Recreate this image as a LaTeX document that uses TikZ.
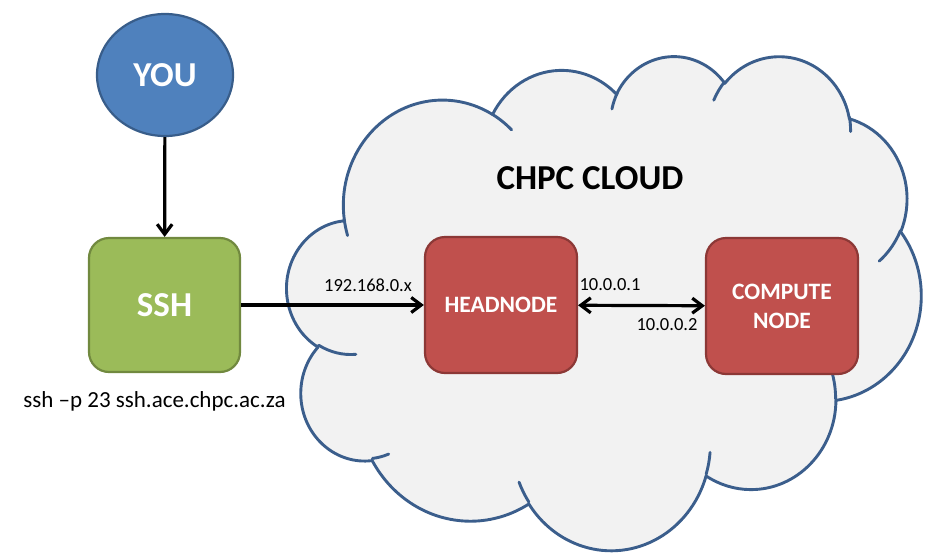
\documentclass[tikz,border=0pt]{standalone}
\usepackage{fontspec}
\setmainfont{Carlito}
\usetikzlibrary{arrows.meta,shapes.geometric}
\definecolor{youfill}{HTML}{4F81BD}
\definecolor{youline}{HTML}{385D8A}
\definecolor{sshfill}{HTML}{9BBB59}
\definecolor{sshline}{HTML}{71893F}
\definecolor{redfill}{HTML}{C0504D}
\definecolor{redline}{HTML}{8C3836}
\definecolor{cloudfill}{HTML}{F2F2F2}
\definecolor{cloudline}{HTML}{3B5E8C}
\newcommand\cldarc[4]{arc[start angle={atan2((#1)*sin(#3),(#2)*cos(#3))},delta angle={mod(atan2((#1)*sin((#3)+(#4)),(#2)*cos((#3)+(#4)))-atan2((#1)*sin(#3),(#2)*cos(#3))+720,360)},x radius=#1,y radius=#2]}
\begin{document}
\begin{tikzpicture}[x=1pt,y=-1pt,
  bigtxt/.style={font=\fontsize{35}{40}\selectfont\bfseries},
  midtxt/.style={font=\fontsize{23.5}{29}\selectfont\bfseries, text=white, align=center},
  youst/.style={ellipse, draw=youline, fill=youfill, line width=2.2pt, minimum width=136, minimum height=122, inner sep=0pt, bigtxt, text=white},
  sshst/.style={rectangle, rounded corners=20pt, draw=sshline, fill=sshfill, line width=2.2pt, minimum width=151, minimum height=134, inner sep=0pt, bigtxt, text=white},
  redst/.style={rectangle, rounded corners=20pt, draw=redline, fill=redfill, line width=2.2pt, minimum width=152, minimum height=136, inner sep=0pt, midtxt},
  titlest/.style={bigtxt, text=black, inner sep=0pt},
  cmdst/.style={font=\fontsize{23}{27}\selectfont, inner sep=0pt},
  lblst/.style={font=\fontsize{18.5}{22}\selectfont, inner sep=0pt},
  cloudst/.style={draw=cloudline, line width=2.9pt, line join=round, line cap=round},
  tip/.tip={Straight Barb[length=10pt,width=15pt,line width=3.2pt]},
  arr/.style={draw, line width=3.2pt, -tip},
  arrb/.style={draw, line width=3.2pt, tip-tip}
]
\path[use as bounding box] (0,0) rectangle (926,555);
\begin{scope}[shift={(287pt,-55pt)},x={(1.4676pt,0pt)},y={(0pt,-1.1435pt)}]
  \path[cloudst, fill=cloudfill] (39.00,143.70)
    \cldarc{67.53}{91.90}{-190.48748}{123.78053}
    \cldarc{53.33}{72.67}{-144.10238}{89.94523}
    \cldarc{43.65}{59.45}{-145.80792}{99.72302}
    \cldarc{48.57}{65.95}{-130.98607}{117.24173}
    \cldarc{53.33}{72.73}{-78.70888}{109.02692}
    \cldarc{67.75}{92.20}{-46.26725}{130.269}
    \cldarc{57.85}{78.67}{0.62502}{114.03333}
    \cldarc{67.52}{92.15}{22.4516}{115.17255}
    \cldarc{77.20}{105.43}{66.24263}{75.71102}
    \cldarc{43.60}{59.18}{-274.94208}{146.73557}
    \cldarc{43.45}{59.45}{-246.8285}{152.51885}
    -- cycle;
  \path[cloudst]
    (46.93,261.77) \cldarc{43.45}{59.45}{86.742}{26.4295}
    (69.28,348.99) \cldarc{43.60}{59.18}{73.61047}{11.44747}
    (164.78,390.90) \cldarc{67.52}{92.15}{137.62415}{14.0811}
    (288.27,347.51) \cldarc{67.52}{92.15}{6.45327}{15.99835}
    (341.29,229.54) \cldarc{57.85}{78.67}{-70.29235}{70.91737}
    (417.98,153.54) \cldarc{53.33}{72.73}{30.31803}{27.7515}
    (383.24,54.26) \cldarc{48.57}{65.95}{-13.74433}{14.8589}
    (290.78,39.52) \cldarc{48.57}{65.95}{-149.18145}{18.19537}
    (221.41,47.20) \cldarc{43.65}{59.45}{-163.49427}{17.68635}
    (140.00,51.92) \cldarc{67.53}{91.90}{-66.70695}{12.31935}
    (41.27,157.89) \cldarc{67.53}{91.90}{157.65435}{11.85817};
\end{scope}
\node[youst] (you) at (165,75) {YOU};
\node[sshst] (ssh) at (164.5,305) {SSH};
\node[redst] (head) at (501,305) {HEADNODE};
\node[redst] (comp) at (782,306) {COMPUTE\\NODE};
\node[titlest] (title) at (590,178) {CHPC CLOUD};
\node[cmdst] (cmd) at (154.5,401) {ssh –p 23 ssh.ace.chpc.ac.za};
\node[lblst] (l1) at (368,285) {192.168.0.x};
\node[lblst] (l2) at (610,285) {10.0.0.1};
\node[lblst] (l3) at (667,325) {10.0.0.2};
\draw[arr] (you) -- (ssh);
\draw[arr] (ssh) -- (head);
\draw[arrb] (head) -- (comp);
\end{tikzpicture}
\end{document}
